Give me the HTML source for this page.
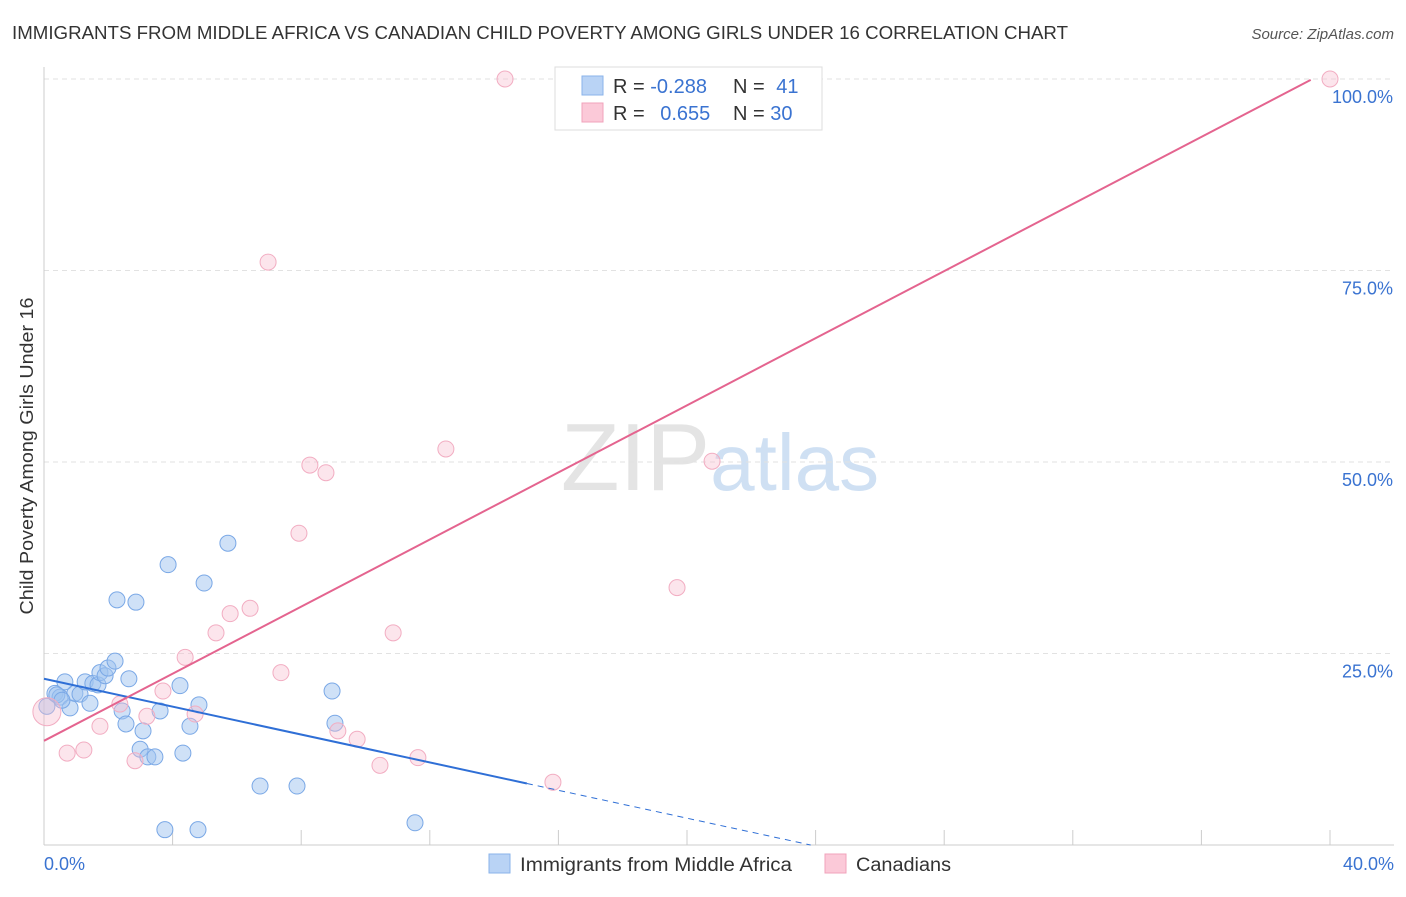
<!DOCTYPE html>
<html><head><meta charset="utf-8"><style>
body{margin:0;background:#fff;font-family:"Liberation Sans",sans-serif;}
svg text{font-family:"Liberation Sans",sans-serif;}
</style></head><body>
<svg id="chart" width="1406" height="892">
<text x="12" y="39" font-size="18" fill="#333" textLength="1056" lengthAdjust="spacingAndGlyphs">IMMIGRANTS FROM MIDDLE AFRICA VS CANADIAN CHILD POVERTY AMONG GIRLS UNDER 16 CORRELATION CHART</text>
<text x="1394" y="39" font-size="15" fill="#555" font-style="italic" text-anchor="end">Source: ZipAtlas.com</text>
<text x="720" y="490" font-size="96" fill="#e4e4e4" text-anchor="middle" font-family="Liberation Serif">ZIP<tspan fill="#cfe0f3" font-family="Liberation Sans" font-size="80">atlas</tspan></text>
<text transform="translate(33,456) rotate(-90)" font-size="18" fill="#333" text-anchor="middle" textLength="317" lengthAdjust="spacingAndGlyphs">Child Poverty Among Girls Under 16</text>
<g id="grid"></g><g id="marks"></g>
<g>
<rect x="555" y="67" width="267" height="63" fill="#fff" stroke="#ddd"/>
<rect x="582" y="76" width="21" height="19" fill="#b9d3f5" stroke="#8ab3ea"/>
<rect x="582" y="103" width="21" height="19" fill="#fbc9d8" stroke="#f0a3bb"/>
<text x="613" y="93" font-size="20" fill="#333">R = <tspan fill="#3a73d1">-0.288</tspan></text>
<text x="733" y="93" font-size="20" fill="#333">N = <tspan fill="#3a73d1" dx="6">41</tspan></text>
<text x="613" y="120" font-size="20" fill="#333">R = <tspan fill="#3a73d1" dx="10">0.655</tspan></text>
<text x="733" y="120" font-size="20" fill="#333">N = <tspan fill="#3a73d1">30</tspan></text>
</g>
<g>
<rect x="489" y="854" width="21" height="19" fill="#b9d3f5" stroke="#8ab3ea"/>
<text x="520" y="871" font-size="19" fill="#333" textLength="272" lengthAdjust="spacingAndGlyphs">Immigrants from Middle Africa</text>
<rect x="825" y="854" width="21" height="19" fill="#fbc9d8" stroke="#f0a3bb"/>
<text x="856" y="871" font-size="19" fill="#333" textLength="95" lengthAdjust="spacingAndGlyphs">Canadians</text>
</g>
</svg>
<script>
const blueX=[0.09,0.34,0.50,0.65,0.81,0.96,1.12,1.28,1.43,1.52,1.68,1.74,1.90,1.99,2.21,2.27,2.43,2.55,2.64,2.86,2.99,3.08,3.23,3.45,3.61,3.76,3.86,4.23,4.32,4.54,4.79,4.82,4.98,5.72,6.72,7.87,8.96,9.05,11.54,0.40,0.56];
const blueY=[18.1,19.8,19.3,21.3,17.9,19.8,19.7,21.3,18.5,21.1,20.9,22.5,22.1,23.1,24.0,32.0,17.5,15.8,21.7,31.7,12.5,14.9,11.5,11.5,17.5,2.0,36.6,20.8,12.0,15.5,2.0,18.3,34.2,39.4,7.7,7.7,20.1,15.9,2.9,19.6,18.9];
const pinkX=[0.09,0.72,1.24,1.74,2.36,2.83,3.20,3.70,4.39,4.70,5.35,5.79,6.41,6.97,7.37,7.93,8.27,8.77,9.14,9.74,10.45,10.86,11.63,12.50,14.34,15.83,19.69,20.78,21.09,40.0];
const pinkY=[17.4,12.0,12.4,15.5,18.4,11.0,16.8,20.1,24.5,17.1,27.7,30.2,30.9,76.1,22.5,40.7,49.6,48.6,14.9,13.8,10.4,27.7,11.4,51.7,100,8.2,33.6,50.1,100,100];
const yTicks=[25,50,75,100];
const yTickLabels=["25.0%","50.0%","75.0%","100.0%"];
const xTicks=[0,4,8,12,16,20,24,28,32,36,40];
const blueFit=[21.7,-0.91,15.02];
const pinkFit=[13.6,2.19,39.4];
const X=v=>44+v*32.15, Y=v=>845-v*7.66;
const NS="http://www.w3.org/2000/svg";
function mk(p,tag,a){const e=document.createElementNS(NS,tag);for(const k in a)e.setAttribute(k,a[k]);p.appendChild(e);return e;}
const g=document.getElementById('grid'), m=document.getElementById('marks');
yTicks.forEach((t,i)=>{
 const l=mk(g,'line',{x1:44,x2:1394,y1:Y(t),y2:Y(t),stroke:'#e2e2e2','stroke-dasharray':'5,4'});
 
 
 const tx=mk(g,'text',{x:1393,y:Y(t)+24,'font-size':18,fill:'#3a73d1','text-anchor':'end'});
 tx.textContent=yTickLabels[i];
 
 
});
const ax=mk(g,'line',{x1:44,x2:44,y1:67,y2:845,stroke:'#ccc'});


const bx=mk(g,'line',{x1:44,x2:1394,y1:845,y2:845,stroke:'#ccc'});


xTicks.forEach(t=>{
 const l=mk(g,'line',{x1:X(t),x2:X(t),y1:830,y2:845,stroke:'#ccc'});
 
 
});
[[0,'0.0%','start',44],[40,'40.0%','end',1394]].forEach(a=>{
 const tx=mk(g,'text',{x:a[3],y:870,'font-size':18,fill:'#3a73d1','text-anchor':a[2]});
 tx.textContent=a[1];
 
 
});
blueX.forEach((x,i)=>{
 const c=mk(m,'circle',{cx:X(x),cy:Y(blueY[i]),r:8,fill:'rgba(160,196,240,0.5)',stroke:'#7aa8e6','stroke-width':1});
 
 
});
pinkX.forEach((x,i)=>{
 const c=mk(m,'circle',{cx:X(x),cy:Y(pinkY[i]),r:i==0?14:8,fill:'rgba(248,190,208,0.4)',stroke:'#f2adc2','stroke-width':1});
 
 
});
const bEnd=blueFit[2], bZero=-blueFit[0]/blueFit[1];
const bl=mk(m,'line',{x1:X(0),y1:Y(blueFit[0]),x2:X(bEnd),y2:Y(blueFit[0]+blueFit[1]*bEnd),stroke:'#2f6fd6','stroke-width':2});


const bd=mk(m,'line',{x1:X(bEnd),y1:Y(blueFit[0]+blueFit[1]*bEnd),x2:X(bZero),y2:Y(0),stroke:'#2f6fd6','stroke-width':1,'stroke-dasharray':'6,5'});


const pl=mk(m,'line',{x1:X(0),y1:Y(pinkFit[0]),x2:X(pinkFit[2]),y2:Y(pinkFit[0]+pinkFit[1]*pinkFit[2]),stroke:'#e4648f','stroke-width':2});


</script>
</body></html>
